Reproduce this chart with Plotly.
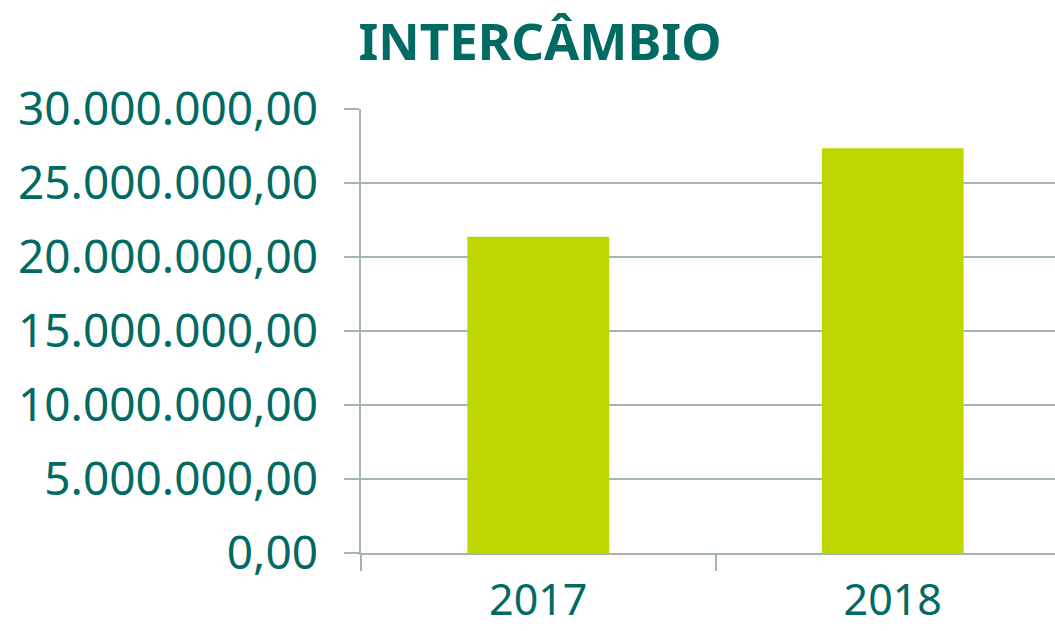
import plotly.graph_objects as go

categories = ["2017", "2018"]
values = [21370000, 27350000]
y_ticks = [0, 5000000, 10000000, 15000000, 20000000, 25000000, 30000000]

TEAL = "#006A63"
BAR = "#BED600"
GRID = "#A3B5B5"
FONT = "Noto Sans"

fig = go.Figure(
    go.Bar(x=categories, y=values, marker=dict(color=BAR, line=dict(width=0)), width=0.4)
)

fig.update_layout(
    width=1055, height=631,
    margin=dict(l=361, r=0, t=109, b=78, autoexpand=False),
    paper_bgcolor="white", plot_bgcolor="white",
    separators=",.",
    showlegend=False,
    title=dict(
        text="<b>INTERCÂMBIO</b>",
        font=dict(family=FONT, size=51, color=TEAL),
        x=540 / 1055, xref="container", xanchor="center",
        y=1 - 42 / 631, yref="container", yanchor="middle",
    ),
)

fig.update_xaxes(
    type="category",
    automargin=False,
    range=[-0.5, -0.5 + 694 / 354.5],
    tickson="boundaries",
    ticks="outside", ticklen=16, tickcolor=GRID, tickwidth=1.5,
    showline=True, linecolor=GRID, linewidth=1.5,
    showgrid=False,
    tickfont=dict(family=FONT, size=43, color=TEAL),
    ticklabelstandoff=9,
)

fig.update_yaxes(
    automargin=False,
    range=[0, 30000000],
    tickvals=y_ticks,
    tickformat=",.2f",
    ticks="outside", ticklen=15, tickcolor=GRID, tickwidth=1.5,
    showline=True, linecolor=GRID, linewidth=1.5,
    showgrid=True, gridcolor=GRID, gridwidth=1.5,
    zeroline=False,
    tickfont=dict(family=FONT, size=46, color=TEAL),
    ticklabelstandoff=17,
)

fig.write_html("out.html")
